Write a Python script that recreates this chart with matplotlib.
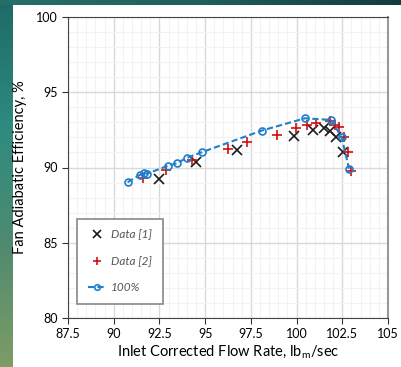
import numpy as np
import matplotlib.pyplot as plt
from matplotlib.colors import LinearSegmentedColormap
from matplotlib.ticker import MultipleLocator

# data
x_100 = [90.76, 91.44, 91.66, 91.82, 92.98, 93.44, 94.01, 94.81, 98.09, 100.46, 101.88, 102.46, 102.87]
y_100 = [89.02, 89.52, 89.63, 89.59, 90.12, 90.28, 90.65, 91.01, 92.45, 93.27, 93.16, 92.03, 89.92]

x_d1 = [92.48, 94.50, 96.72, 99.84, 100.88, 101.48, 101.85, 102.15, 102.55]
y_d1 = [89.24, 90.39, 91.14, 92.09, 92.46, 92.60, 92.43, 92.05, 91.05]

x_d2 = [91.62, 92.84, 94.26, 96.23, 97.29, 98.94, 99.95, 100.57, 101.08, 101.82, 102.10, 102.33,
        102.61, 102.79, 102.97]
y_d2 = [89.28, 89.83, 90.50, 91.23, 91.71, 92.16, 92.60, 92.82, 92.97, 93.09, 92.80, 92.71,
        92.02, 91.01, 89.79]

plt.rcParams['font.family'] = ['Lato', 'DejaVu Sans']

fig = plt.figure(figsize=(4.01, 3.67), dpi=100)

# background strips (slide template)
bl = fig.add_axes([0, 0, 13 / 401, 1])
cm = LinearSegmentedColormap.from_list('bg', ['#1f6a66', '#2d8a80', '#4f8a70', '#7d9c66'])
bl.imshow(np.linspace(0, 1, 100).reshape(-1, 1), aspect='auto', cmap=cm)
bl.axis('off')
bt = fig.add_axes([0, 1 - 5 / 367, 1, 5 / 367])
cm2 = LinearSegmentedColormap.from_list('bg2', ['#266e6a', '#1f5f5c', '#143c3c'])
bt.imshow(np.linspace(0, 1, 100).reshape(1, -1), aspect='auto', cmap=cm2)
bt.axis('off')

ax = fig.add_axes([68 / 401, 1 - 318 / 367, 320 / 401, 301 / 367])

ax.plot(x_d1, y_d1, 'x', color='#1a1a1a', ms=7, mew=1.2, label='Data [1]', zorder=3)
ax.plot(x_d2, y_d2, '+', color='#d01010', ms=7.5, mew=1.2, label='Data [2]', zorder=3)
ax.plot(x_100, y_100, '--o', color='#1e7fcc', ms=5, mfc='none', mew=1.2, lw=1.5,
        dashes=(3, 1.5), label='100%', zorder=4)

ax.set_xlim(87.5, 105)
ax.set_ylim(80, 100)
ax.xaxis.set_minor_locator(MultipleLocator(0.5))
ax.yaxis.set_major_locator(MultipleLocator(5))
ax.yaxis.set_minor_locator(MultipleLocator(1))
ax.set_xticks(np.arange(87.5, 105.1, 2.5))
ax.set_xticklabels(['87.5', '90', '92.5', '95', '97.5', '100', '102.5', '105'])
ax.grid(which='major', color='#d9d9d9', lw=1)
ax.grid(which='minor', color='#f2f2f2', lw=0.8)
ax.set_axisbelow(True)
ax.tick_params(which='minor', length=0)
ax.tick_params(which='major', length=4, direction='out', labelsize=9, color='#333333')
for s in ['left', 'bottom', 'top']:
    ax.spines[s].set_color('#444444')
ax.spines['right'].set_color('#999999')
ax.spines['right'].set_linewidth(1.5)

ax.set_xlabel('Inlet Corrected Flow Rate, lb$_\\mathregular{m}$/sec', fontsize=10.5, labelpad=2)
ax.set_ylabel('Fan Adiabatic Efficiency, %', fontsize=10.5, labelpad=6)

leg = ax.legend(loc='lower left', bbox_to_anchor=(0.028, 0.047), borderaxespad=0,
                fancybox=False, edgecolor='#888888', framealpha=1,
                prop={'style': 'italic', 'size': 8.5}, labelspacing=1.3,
                handlelength=1.6, handletextpad=0.4, borderpad=0.9, markerscale=0.8)
leg.get_frame().set_linewidth(1.2)
for t in leg.get_texts():
    t.set_color('#555555')

fig.savefig('out.png', dpi=100)
